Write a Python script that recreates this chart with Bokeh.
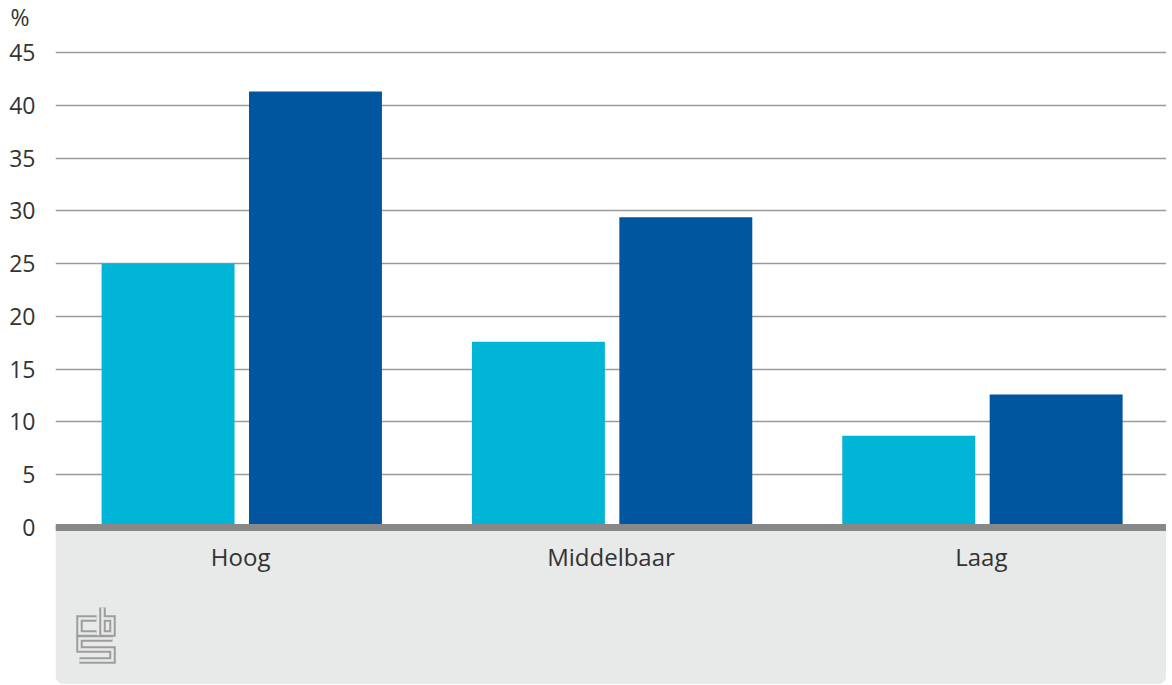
from bokeh.plotting import figure
from bokeh.models import ColumnDataSource, FactorRange, Range1d, FixedTicker, BoxAnnotation, Title
from bokeh.transform import dodge
from bokeh.embed import file_html
from bokeh.resources import INLINE

# data
categories = ["Hoog", "Middelbaar", "Laag"]
series_1 = [25.0, 17.6, 8.7]
series_2 = [41.3, 29.4, 12.6]
y_ticks = [0, 5, 10, 15, 20, 25, 30, 35, 40, 45]
unit_label = "%"

LIGHT = "#00b5d5"
DARK = "#0057a0"
PANEL = "#e8e9e9"
FONT = "Open Sans"

W, H = 1166, 684
LEFT, TOP = 55, 48
Y0_PX = 527          # pixel row of value 0
PX_PER_UNIT = 10.556

y_start = -(H - Y0_PX) / PX_PER_UNIT
y_end = 45 + (52 - TOP) / PX_PER_UNIT

source = ColumnDataSource(dict(cat=categories, s1=series_1, s2=series_2))

p = figure(
    x_range=FactorRange(*categories, range_padding=0),
    y_range=Range1d(y_start, y_end),
    width=W, height=H,
    output_backend="svg", toolbar_location=None,
    min_border_left=LEFT, min_border_right=0, min_border_top=TOP, min_border_bottom=0,
)
p.outline_line_color = None
p.background_fill_color = "white"
p.border_fill_color = "white"

# unit label above the y axis (title), lifted by an empty spacer title
p.title = Title(text=unit_label, align="left", offset=-45, standoff=0, vertical_align="top",
                text_font=FONT, text_font_size="23px", text_color="#333333",
                text_font_style="normal")
p.add_layout(Title(text=" ", text_font_size="1px", standoff=11), "above")

cat_px = (W - LEFT) / len(categories)


def to_data(px, py):
    return (px - LEFT) / cat_px, (Y0_PX - py) / PX_PER_UNIT


# grey panel below the axis
panel = BoxAnnotation(top=0, fill_color=PANEL, fill_alpha=1.0, line_color=None,
                      level="underlay",
                      border_radius=dict(top_left=0, top_right=0, bottom_right=9, bottom_left=9))
p.add_layout(panel)

p.vbar(x=dodge("cat", -0.196, range=p.x_range), top="s1", bottom=0, width=0.359,
       source=source, fill_color=LIGHT, line_color=None)
p.vbar(x=dodge("cat", 0.202, range=p.x_range), top="s2", bottom=0, width=0.359,
       source=source, fill_color=DARK, line_color=None)

# simplified CBS logo (decoration, pixel positions)
logo_paths = [
    [(96, 618), (79, 618), (79, 633), (96, 633)],                 # c
    [(102, 607), (102, 633), (112, 633), (112, 618), (102, 618)],  # b
    [(112, 638), (79, 638), (79, 649), (112, 649), (112, 660), (79, 660)],  # s
]
xs, ys = [], []
for path in logo_paths:
    pts = [to_data(a, b) for a, b in path]
    xs.append([q[0] for q in pts])
    ys.append([q[1] for q in pts])
p.multi_line(xs, ys, line_color="#9d9d9d", line_width=6.5, line_join="miter", line_cap="butt")
p.multi_line(xs, ys, line_color=PANEL, line_width=2.5, line_join="miter", line_cap="butt")

# y axis
p.yaxis.ticker = FixedTicker(ticks=y_ticks)
p.yaxis.axis_line_color = None
p.yaxis.major_tick_line_color = None
p.yaxis.minor_tick_line_color = None
p.yaxis.major_tick_out = 0
p.yaxis.major_tick_in = 0
p.yaxis.major_label_standoff = 20
p.yaxis.major_label_text_font = FONT
p.yaxis.major_label_text_font_size = "23px"
p.yaxis.major_label_text_color = "#333333"

p.ygrid.ticker = FixedTicker(ticks=y_ticks)
p.ygrid.grid_line_color = "#9a9a9a"
p.ygrid.grid_line_width = 1.5
p.xgrid.grid_line_color = None

# x axis fixed at zero
p.xaxis.fixed_location = 0
p.xaxis.axis_line_color = "#888888"
p.xaxis.axis_line_width = 7
p.xaxis.major_tick_line_color = None
p.xaxis.minor_tick_line_color = None
p.xaxis.major_tick_out = 0
p.xaxis.major_tick_in = 0
p.xaxis.major_label_standoff = 12
p.xaxis.major_label_text_font = FONT
p.xaxis.major_label_text_font_size = "24px"
p.xaxis.major_label_text_color = "#333333"

open("out.html", "w").write(file_html(p, INLINE))
